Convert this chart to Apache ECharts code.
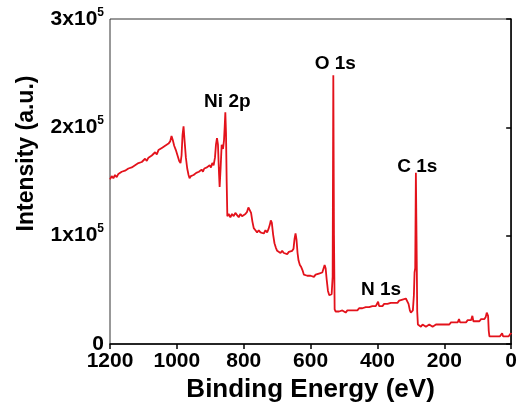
<!DOCTYPE html>
<html>
<head>
<meta charset="utf-8">
<script src="https://cdn.jsdelivr.net/npm/echarts@6/dist/echarts.min.js"></script>
<style>
  html, body { margin: 0; padding: 0; background: #fff; }
  #chart { width: 520px; height: 412px; }
</style>
</head>
<body>
<div id="chart"></div>
<script>
// XPS survey spectrum
const bindingEnergy = [
  1200, 1195, 1190, 1185, 1180, 1175, 1170, 1165, 1160, 1155, 1150, 1145, 1140, 1135, 1130,
  1125, 1120, 1115, 1110, 1105, 1100, 1095, 1090, 1085, 1080, 1075, 1070, 1065, 1060, 1055,
  1050, 1045, 1040, 1035, 1030, 1025, 1020, 1016, 1012, 1008, 1003, 998, 993, 989, 986, 983,
  980, 977, 973, 969, 965, 962, 958, 954, 950, 946, 942, 938, 934, 930, 926, 922, 918, 914,
  910, 906, 902, 898, 894, 890, 886, 883, 880, 877, 874, 872, 869, 866, 862, 859, 857, 855,
  853, 851, 849, 845, 840, 835, 830, 825, 820, 815, 810, 805, 800, 795, 790, 786, 782, 778,
  774, 770, 765, 760, 755, 750, 745, 740, 735, 730, 726, 722, 719, 716, 712, 708, 704, 700,
  695, 690, 685, 680, 675, 670, 665, 660, 655, 651, 648, 645, 642, 639, 636, 632, 628, 624,
  620, 615, 610, 605, 600, 595, 590, 585, 580, 575, 570, 565, 561, 558, 555, 552, 548, 544,
  540, 537, 534, 532, 530, 528, 525, 520, 515, 510, 505, 500, 495, 490, 485, 480, 475, 470,
  465, 460, 455, 450, 445, 440, 435, 430, 425, 420, 415, 410, 405, 401, 398, 395, 390, 385,
  380, 375, 370, 365, 360, 355, 350, 345, 340, 335, 330, 325, 320, 315, 311, 307, 303, 300,
  297, 294, 291, 289, 287, 285, 283, 281, 279, 275, 270, 265, 260, 255, 250, 245, 240, 235,
  230, 225, 220, 215, 210, 205, 200, 195, 190, 185, 180, 175, 170, 165, 160, 156, 153, 150,
  145, 140, 135, 130, 125, 120, 116, 113, 110, 105, 100, 95, 90, 85, 80, 76, 73, 71, 69, 67,
  65, 62, 58, 54, 50, 46, 42, 38, 34, 30, 27, 24, 20, 16, 12, 8, 5, 3, 1, 0
];
const intensity = [
  152000, 155000, 153000, 156000, 154000, 157000, 156000, 159000, 158000, 160000, 159000, 162000, 161000, 163000, 162000,
  165000, 164000, 167000, 166000, 168000, 167000, 171000, 169000, 172000, 171000, 174000, 173000, 177000, 175000, 179000,
  178000, 181000, 180000, 183000, 182000, 185000, 187000, 192000, 188000, 183000, 179000, 174000, 169000, 167000, 174000, 193000,
  201000, 188000, 172000, 162000, 156000, 153000, 155000, 154000, 156000, 155000, 158000, 157000, 159000, 158000, 161000, 159000, 162000, 161000,
  163000, 162000, 165000, 163000, 167000, 165000, 172000, 184000, 190000, 184000, 158000, 145000, 163000, 184000, 180000, 188000, 200000, 214000,
  195000, 150000, 118000, 120000, 117000, 120000, 118000, 121000, 119000, 117000, 120000, 118000, 117000, 120000, 122000, 126000, 125000, 121000,
  113000, 107000, 105000, 103000, 105000, 103000, 104000, 102000, 105000, 103000, 106000, 110000, 114000, 112000, 101000, 93000, 89000, 86000,
  85000, 84000, 86000, 84000, 85000, 83000, 85000, 84000, 86000, 88000, 97000, 102000, 96000, 84000, 77000, 73000, 71000, 68000,
  64000, 65000, 63000, 64000, 63000, 64000, 62000, 64000, 63000, 65000, 64000, 66000, 70000, 73000, 70000, 60000, 49000, 45000,
  44000, 46000, 62000, 248000, 100000, 32000, 30000, 29000, 30000, 29000, 31000, 30000, 29000, 31000, 30000, 31000, 32000, 31000,
  32000, 31000, 33000, 32000, 33000, 32000, 34000, 33000, 34000, 33000, 35000, 34000, 35000, 34000, 39000, 35000, 36000, 35000,
  37000, 36000, 37000, 36000, 38000, 37000, 38000, 39000, 38000, 40000, 39000, 41000, 40000, 42000, 41000, 37000, 31000, 29000,
  28000, 31000, 45000, 66000, 70000, 158000, 95000, 30000, 18000, 17000, 16000, 18000, 17000, 16000, 17000, 18000, 17000, 16000,
  17000, 18000, 17000, 18000, 19000, 18000, 19000, 18000, 19000, 18000, 20000, 19000, 20000, 19000, 20000, 23000, 20000, 21000,
  20000, 21000, 20000, 22000, 21000, 22000, 26000, 21000, 22000, 21000, 22000, 21000, 23000, 22000, 23000, 25000, 29000, 30000, 26000, 12000,
  7000, 6000, 7000, 6000, 7000, 6000, 7000, 6000, 7000, 8000, 10000, 7000, 6000, 7000, 6000, 7000, 6000, 8000, 10000, 9000
];
const peakLabels = ['Ni 2p', 'O 1s', 'N 1s', 'C 1s'];
const peakLabelCoords = [[849, 224000], [526, 259000], [389, 50000], [281, 164000]];
const yTicks = [0, 100000, 200000, 300000];

const FONT = 'Liberation Sans';
const chart = echarts.init(document.getElementById('chart'));

chart.setOption({
  animation: false,
  grid: {
    left: 110, right: 6, top: 19, bottom: 68,
    show: true,
    borderColor: '#333',
    borderWidth: 1
  },
  xAxis: {
    type: 'value',
    inverse: true,
    min: 0,
    max: 1200,
    interval: 200,
    name: 'Binding Energy (eV)',
    nameLocation: 'middle',
    nameGap: 33,
    nameTextStyle: { fontFamily: FONT, fontWeight: 'bold', fontSize: 26, color: '#000' },
    axisLine: { lineStyle: { color: '#000', width: 1.5 } },
    axisTick: { show: true, length: 5, lineStyle: { color: '#000', width: 1.5 } },
    axisLabel: {
      fontFamily: FONT, fontWeight: 'bold', fontSize: 21, color: '#000', margin: 7,
      formatter: (v) => String(v)
    },
    splitLine: { show: false }
  },
  yAxis: {
    type: 'value',
    min: 0,
    max: 300000,
    interval: 100000,
    name: 'Intensity (a.u.)',
    nameLocation: 'middle',
    nameGap: 72,
    nameTextStyle: {
      fontFamily: FONT, fontWeight: 'bold', fontSize: 23, color: '#000',
      padding: [0, 0, 0, 56]
    },
    axisLine: { show: true, lineStyle: { color: '#000', width: 1.5 } },
    axisTick: { show: true, length: 5, lineStyle: { color: '#000', width: 1.5 } },
    axisLabel: {
      margin: 6,
      formatter: (v) => {
        if (v === 0) return '{b|0}';
        const i = yTicks.indexOf(v);
        return '{b|' + i + 'x10}{s|5}';
      },
      rich: {
        b: { fontFamily: FONT, fontWeight: 'bold', fontSize: 21, color: '#000' },
        s: { fontFamily: FONT, fontWeight: 'bold', fontSize: 12, color: '#000', padding: [0, 0, 13, 0] }
      }
    },
    splitLine: { show: false }
  },
  series: [{
    type: 'line',
    data: bindingEnergy.map((e, i) => [e, intensity[i]]),
    showSymbol: false,
    lineStyle: { color: '#e3121b', width: 1.8 },
    itemStyle: { color: '#e3121b' },
    markPoint: {
      symbol: 'circle',
      symbolSize: 0,
      silent: true,
      label: {
        show: true,
        position: 'inside',
        formatter: (p) => p.name,
        fontFamily: FONT,
        fontWeight: 'bold',
        fontSize: 19,
        color: '#000'
      },
      data: peakLabels.map((name, i) => ({ name: name, coord: peakLabelCoords[i] }))
    }
  }]
});
</script>
</body>
</html>
